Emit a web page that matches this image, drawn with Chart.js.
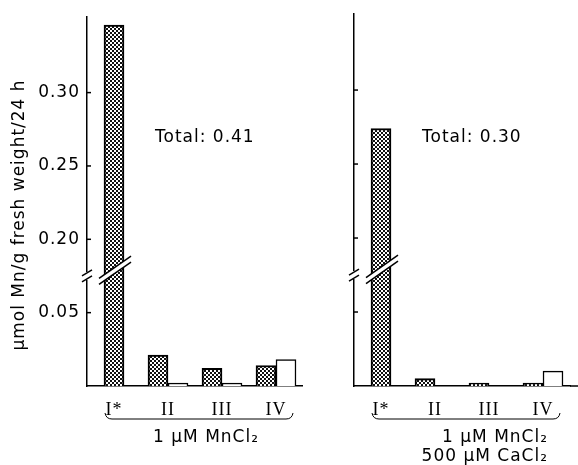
<!DOCTYPE html>
<html>
<head>
<meta charset="utf-8">
<script src="https://cdn.jsdelivr.net/npm/chart.js@4/dist/chart.umd.min.js"></script>
<style>
  body { margin: 0; background: #fff; }
  #wrap { position: relative; width: 578px; height: 465px; }
  canvas { position: absolute; top: 0; }
  #izq { left: 0; }
  #der { left: 303px; }
</style>
</head>
<body>
<div id="wrap">
  <canvas id="izq" width="303" height="465"></canvas>
  <canvas id="der" width="275" height="465"></canvas>
</div>
<script>
// datos
const categorias = ["I*", "II", "III", "IV"];
const oscuroMn = [0.346, 0.021, 0.012, 0.014];
const blancoMn = [null, 0.002, 0.002, 0.018];
const oscuroCa = [0.274, 0.005, 0.002, 0.002];
const blancoCa = [null, 0, 0, 0.010];
const ticksReales = [0.05, 0.20, 0.25, 0.30];
const totales = ["Total: 0.41", "Total: 0.30"];
const leyendaMn = ["1 μM MnCl₂"];
const leyendaCa = ["1 μM MnCl₂", "500 μM CaCl₂"];
const tituloY = "μmol Mn/g fresh weight/24 h";

// eje cortado: por encima de CORTE se resta SALTO
const CORTE = 0.075, SALTO = 0.1;
function aEje(v) {
  if (v == null) return null;
  return v > CORTE ? v - SALTO : v;
}

Chart.defaults.font.family = "'DejaVu Sans', sans-serif";
Chart.defaults.color = "#000";

// trama cuadriculada de las barras oscuras
function trama() {
  const c = document.createElement("canvas");
  c.width = 4; c.height = 4;
  const g = c.getContext("2d");
  g.fillStyle = "#111";
  g.fillRect(0, 0, 4, 4);
  g.fillStyle = "#fff";
  g.fillRect(0, 0, 2, 2);
  g.fillRect(2, 2, 2, 2);
  return g.createPattern(c, "repeat");
}
const patron = trama();

function llave(ctx, x0, x1, y) {
  ctx.beginPath();
  ctx.moveTo(x0, y - 6);
  ctx.quadraticCurveTo(x0 + 1, y, x0 + 7, y);
  ctx.lineTo(x1 - 7, y);
  ctx.quadraticCurveTo(x1 - 1, y, x1, y - 6);
  ctx.stroke();
}

const decoracion = {
  id: "decoracion",
  beforeDraw(chart) {
    chart.ctx.letterSpacing = "1px";
  },
  afterDraw(chart, args, o) {
    const { ctx, chartArea: a, scales: { y } } = chart;
    const yb = y.getPixelForValue(CORTE);
    ctx.save();
    ctx.strokeStyle = "#000";
    ctx.fillStyle = "#fff";
    ctx.lineWidth = 1.5;

    // ticks hacia dentro
    for (const t of y.ticks) {
      const py = y.getPixelForValue(t.value);
      ctx.beginPath();
      ctx.moveTo(a.left, py);
      ctx.lineTo(a.left + 4, py);
      ctx.stroke();
    }

    // corte en el eje
    ctx.fillRect(a.left - 2, yb - 4, 4, 8);
    for (const d of [-3, 3]) {
      ctx.beginPath();
      ctx.moveTo(a.left - 5, yb + d + 3);
      ctx.lineTo(a.left + 5, yb + d - 3);
      ctx.stroke();
    }

    // corte en la barra I*
    const b = chart.getDatasetMeta(0).data[0];
    const x1 = b.x - 15, x2 = b.x + 17, yc = yb - 5;
    const yEn = (x, d) => yc + d - (x - b.x) * 0.7;
    ctx.beginPath();
    ctx.moveTo(x1, yEn(x1, -3));
    ctx.lineTo(x2, yEn(x2, -3));
    ctx.lineTo(x2, yEn(x2, 3));
    ctx.lineTo(x1, yEn(x1, 3));
    ctx.closePath();
    ctx.fill();
    for (const d of [-3, 3]) {
      ctx.beginPath();
      ctx.moveTo(x1, yEn(x1, d));
      ctx.lineTo(x2, yEn(x2, d));
      ctx.stroke();
    }

    // línea base hasta el borde
    if (o.extender) {
      ctx.beginPath();
      ctx.moveTo(a.right, a.bottom);
      ctx.lineTo(chart.width, a.bottom);
      ctx.stroke();
    }

    ctx.lineWidth = 1;
    llave(ctx, a.left + 18, a.right - 10, 419);

    // textos
    ctx.fillStyle = "#000";
    ctx.letterSpacing = "1px";
    ctx.font = "17px 'DejaVu Sans'";
    ctx.textBaseline = "middle";
    ctx.textAlign = "left";
    ctx.fillText(o.total, a.left + 68, 138);

    if (o.centrar) {
      ctx.textAlign = "center";
      o.leyenda.forEach((t, i) => ctx.fillText(t, a.left + 119, 438 + i * 19));
    } else {
      ctx.textAlign = "right";
      o.leyenda.forEach((t, i) => ctx.fillText(t, a.right - 22, 438 + i * 19));
    }

    if (o.titulo) {
      ctx.translate(20, 215);
      ctx.rotate(-Math.PI / 2);
      ctx.textAlign = "center";
      ctx.fillText(o.titulo, 0, 0);
    }
    ctx.restore();
  }
};

function panel(id, oscuro, blanco, conEtiquetas, anchoY, padDer, deco) {
  return new Chart(document.getElementById(id), {
    type: "bar",
    data: {
      labels: categorias,
      datasets: [
        {
          data: oscuro.map(aEje),
          backgroundColor: patron,
          borderColor: "#000",
          borderWidth: 2,
          barThickness: 20,
          skipNull: true
        },
        {
          data: blanco.map(aEje),
          backgroundColor: "#fff",
          borderColor: "#000",
          borderWidth: 1.5,
          barThickness: 20,
          skipNull: true
        }
      ]
    },
    options: {
      responsive: false,
      animation: false,
      layout: { padding: { top: 14, right: padDer, left: 0, bottom: 0 } },
      plugins: {
        legend: { display: false },
        tooltip: { enabled: false },
        decoracion: deco
      },
      scales: {
        x: {
          grid: { display: false, drawTicks: false },
          border: { color: "#000", width: 1.5 },
          ticks: {
            font: { family: "'Liberation Serif', serif", size: 18 },
            padding: 13
          },
          afterFit: s => { s.height = 79; }
        },
        y: {
          min: 0,
          max: 0.2514,
          grid: { display: false, drawTicks: false },
          border: { color: "#000", width: 1.5 },
          afterBuildTicks: s => { s.ticks = ticksReales.map(v => ({ value: aEje(v) })); },
          ticks: {
            display: conEtiquetas,
            font: { size: 17 },
            padding: 7,
            callback: (v, i) => ticksReales[i].toFixed(2)
          },
          afterFit: s => { s.width = anchoY; }
        }
      }
    },
    plugins: [decoracion]
  });
}

panel("izq", oscuroMn, blancoMn, true, 87, 0,
  { total: totales[0], leyenda: leyendaMn, centrar: true, titulo: tituloY, extender: false });
panel("der", oscuroCa, blancoCa, false, 51, 8,
  { total: totales[1], leyenda: leyendaCa, centrar: false, titulo: null, extender: true });
</script>
</body>
</html>
